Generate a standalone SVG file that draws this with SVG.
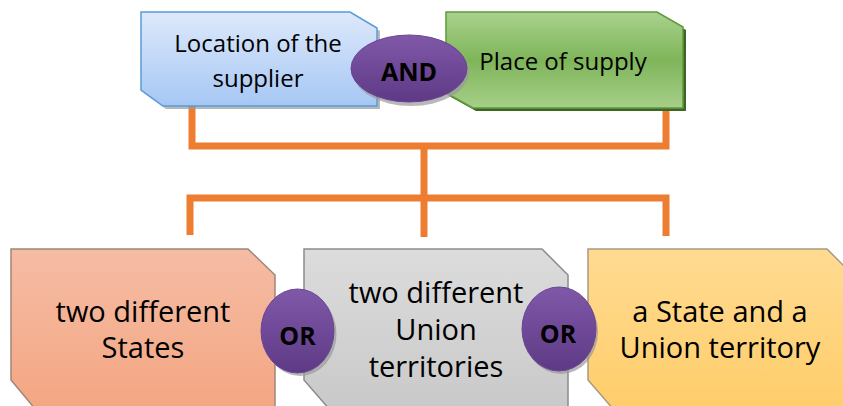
<svg xmlns="http://www.w3.org/2000/svg" width="843" height="406" viewBox="0 0 843 406">
<defs>
<linearGradient id="gBlue" x1="0" y1="0" x2="0" y2="1"><stop offset="0" stop-color="#dde9fb"/><stop offset="1" stop-color="#a6c7f4"/></linearGradient>
<linearGradient id="gGreen" x1="0" y1="0" x2="0" y2="1"><stop offset="0" stop-color="#a9d28c"/><stop offset="0.5" stop-color="#7fb55a"/><stop offset="1" stop-color="#a6cf88"/></linearGradient>
<linearGradient id="gSalmon" x1="0" y1="0" x2="0" y2="1"><stop offset="0" stop-color="#f5bca4"/><stop offset="1" stop-color="#f4a682"/></linearGradient>
<linearGradient id="gGray" x1="0" y1="0" x2="0" y2="1"><stop offset="0" stop-color="#dcdcdc"/><stop offset="1" stop-color="#c9c9c9"/></linearGradient>
<linearGradient id="gYellow" x1="0" y1="0" x2="0" y2="1"><stop offset="0" stop-color="#ffdb92"/><stop offset="1" stop-color="#ffcd6a"/></linearGradient>
<linearGradient id="gPurple" x1="0" y1="0" x2="0" y2="1"><stop offset="0" stop-color="#8058a8"/><stop offset="1" stop-color="#5e3a86"/></linearGradient>
</defs>
<style>
.t{font-family:"Open Sans","Noto Sans","Liberation Sans",sans-serif;fill:#000;text-anchor:middle}
.big{font-size:29px}
.mid{font-size:24px}
.op{font-size:25px;font-weight:bold}
.conn{stroke:#ed7d31;stroke-width:7;fill:none}
.oval{fill:url(#gPurple);stroke:#6a4594;stroke-width:1}
.shadow{fill:#9a9a9a;opacity:0.7}
</style>
<g id="connectors">
<polyline class="conn" points="192,106 192,146 666,146 666,108"/>
<line class="conn" x1="424" y1="146" x2="424" y2="237"/>
<polyline class="conn" points="190,235 190,198 666,198 666,236"/>
</g>
<g id="node-location">
<polygon class="shadow" points="144,15 353,15 380,31 380,109 166,109 144,93"/>
<polygon points="141,12 350,12 377,28 377,106 163,106 141,90" fill="url(#gBlue)" stroke="#5b9bd5" stroke-width="1.5"/>
<text class="t mid" x="258" y="52">Location of the</text>
<text class="t mid" x="258" y="87">supplier</text>
</g>
<g id="node-place">
<polygon points="449,15 660,15 686,30 686,111 476,111 449,96" fill="#3f6428"/>
<polygon points="446,12 657,12 683,27 683,108 473,108 446,93" fill="url(#gGreen)" stroke="#5e9a3a" stroke-width="1.5"/>
<text class="t mid" x="563" y="70">Place of supply</text>
</g>
<g id="node-and">
<ellipse class="shadow" cx="411" cy="72" rx="58" ry="34"/>
<ellipse class="oval" cx="409" cy="68.5" rx="58" ry="33.5"/>
<text class="t op" x="409" y="81">AND</text>
</g>
<g id="node-states">
<polygon points="11,249 248,249 275,275 275,410 36,410 11,380" fill="url(#gSalmon)" stroke="#a0857a" stroke-width="1.5"/>
<text class="t big" x="143" y="322">two different</text>
<text class="t big" x="143" y="358">States</text>
</g>
<g id="node-uts">
<polygon points="304,249 542,249 568,275 568,410 330,410 304,380" fill="url(#gGray)" stroke="#8c8c8c" stroke-width="1.5"/>
<text class="t big" x="436" y="303">two different</text>
<text class="t big" x="436" y="340">Union</text>
<text class="t big" x="436" y="377">territories</text>
</g>
<g id="node-state-ut">
<polygon points="588,249 827,249 853,275 853,410 614,410 588,380" fill="url(#gYellow)" stroke="#a89a80" stroke-width="1.5"/>
<text class="t big" x="720" y="322">a State and a</text>
<text class="t big" x="720" y="358">Union territory</text>
</g>
<g id="node-or1">
<ellipse class="shadow" cx="300" cy="334" rx="36.5" ry="42"/>
<ellipse class="oval" cx="297.5" cy="331" rx="36.5" ry="42"/>
<text class="t op" x="297.5" y="345">OR</text>
</g>
<g id="node-or2">
<ellipse class="shadow" cx="561" cy="332" rx="37" ry="42"/>
<ellipse class="oval" cx="559" cy="329" rx="37" ry="42"/>
<text class="t op" x="558" y="343">OR</text>
</g>
</svg>
